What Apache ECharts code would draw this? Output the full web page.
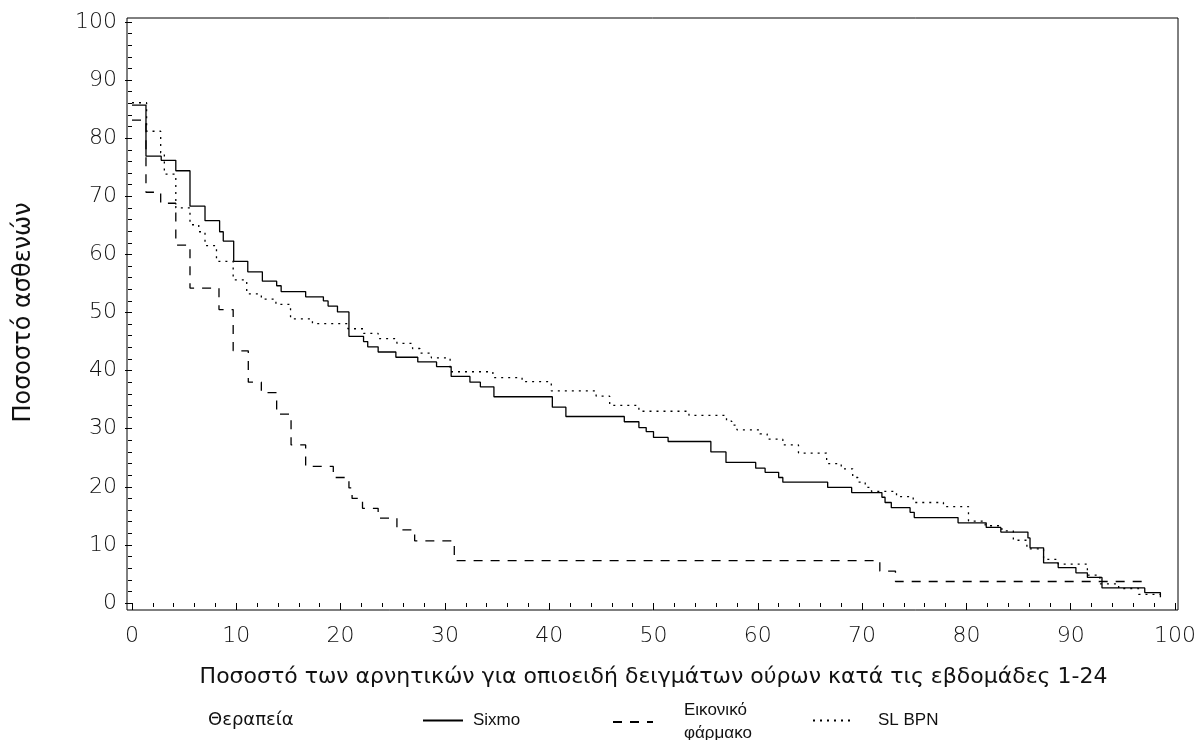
<!DOCTYPE html>
<html>
<head>
<meta charset="utf-8">
<script src="https://cdn.jsdelivr.net/npm/echarts@6/dist/echarts.min.js"></script>
<style>
  html, body { margin: 0; padding: 0; background: #fff; }
  #chart { width: 1200px; height: 740px; }
</style>
</head>
<body>
<div id="chart"></div>
<script>
// step points: [x where the value changes, new value]
const sixmo = [
  [0, 85.7], [1.34, 76.9], [2.8, 76.2], [4.2, 74.4], [5.56, 68.3], [7.0, 65.8], [8.4, 63.9],
  [8.75, 62.3], [9.75, 58.8], [11.1, 57.0], [12.5, 55.4], [13.87, 54.6], [14.3, 53.6],
  [16.65, 52.7], [18.35, 52.0], [18.8, 51.1], [19.7, 50.1], [20.8, 45.9], [22.2, 45.0],
  [22.6, 44.1], [23.6, 43.2], [25.3, 42.3], [27.4, 41.5], [29.2, 40.7], [30.6, 39.0],
  [32.4, 38.0], [33.4, 37.2], [34.7, 35.5], [40.3, 33.7], [41.6, 32.1], [47.2, 31.2],
  [48.6, 30.2], [49.3, 29.5], [50.0, 28.5], [51.4, 27.8], [55.5, 26.0], [56.95, 24.2],
  [59.8, 23.2], [60.7, 22.5], [62.0, 21.6], [62.4, 20.8], [66.7, 19.9], [69.0, 19.0],
  [71.9, 18.2], [72.2, 17.3], [72.8, 16.4], [74.6, 15.6], [75.0, 14.7], [79.2, 13.8],
  [81.9, 13.0], [83.3, 12.2], [85.9, 11.2], [86.1, 9.5], [87.4, 6.9], [88.8, 6.1],
  [90.5, 5.2], [91.6, 4.4], [93.0, 2.6], [97.1, 1.8], [98.6, 1.0]
]
const placebo = [
  [0, 83.1], [1.34, 70.7], [2.75, 68.8], [4.2, 61.6], [5.56, 54.2], [8.34, 50.5], [9.7, 43.4],
  [11.15, 38.0], [12.4, 36.2], [13.87, 32.5], [15.25, 27.2], [16.65, 23.5], [19.3, 21.6],
  [20.8, 19.8], [21.1, 18.0], [22.1, 16.3], [23.6, 14.6], [25.4, 12.6], [27.1, 10.7],
  [30.9, 7.3], [71.7, 5.5], [73.2, 3.7], [97.1, 3.7]
]
const slbpn = [
  [0, 86.1], [1.4, 81.2], [2.75, 77.5], [3.1, 73.8], [4.2, 68.0], [5.56, 65.1], [6.4, 63.9],
  [7.0, 61.5], [8.1, 58.8], [9.7, 55.6], [11.0, 53.2], [12.4, 52.3], [13.8, 51.4],
  [15.2, 48.9], [17.3, 48.1], [20.7, 47.2], [22.2, 46.4], [23.6, 45.5], [25.4, 44.7],
  [26.9, 43.8], [27.6, 43.0], [28.7, 42.2], [30.5, 39.8], [34.6, 38.8], [37.4, 38.1],
  [40.2, 36.5], [44.5, 35.6], [45.8, 34.0], [48.6, 33.0], [53.4, 32.3], [57.0, 31.3],
  [57.5, 30.6], [58.0, 29.8], [60.2, 29.1], [60.9, 28.2], [62.4, 27.2], [63.9, 25.8],
  [66.6, 24.0], [68.0, 23.1], [69.1, 21.6], [69.6, 20.8], [70.3, 19.9], [70.9, 19.2],
  [73.3, 18.3], [74.9, 17.3], [77.8, 16.6], [80.2, 14.1], [81.8, 13.3], [83.4, 12.4],
  [84.5, 10.8], [85.8, 9.3], [87.4, 7.5], [88.8, 6.7], [91.6, 4.8], [92.8, 3.3],
  [94.6, 2.5], [96.5, 1.5], [98.6, 1.5]
]
const seriesNames = ['Sixmo', 'Εικονικό φάρμακο', 'SL BPN']
const xTitle = 'Ποσοστό των αρνητικών για οπιοειδή δειγμάτων ούρων κατά τις εβδομάδες 1-24'
const yTitle = 'Ποσοστό ασθενών'
const legendTitle = 'Θεραπεία'

const chart = echarts.init(document.getElementById('chart'))
const tickFont = { color: '#111', fontSize: 22, fontFamily: 'DejaVu Sans', fontWeight: 200 }
const axisBlack = { lineStyle: { color: '#000', width: 1 } }

const stepSeries = (name, data, type) => ({
  name,
  type: 'line',
  step: 'end',
  data,
  symbol: 'none',
  animation: false,
  lineStyle: { color: '#000', width: 1.3, type },
  itemStyle: { color: '#000' }
})

const legendAt = (name, left, top, pad, wrap) => ({
  data: [name],
  left,
  top,
  itemWidth: 40,
  itemHeight: 12,
  selectedMode: false,
  itemStyle: { opacity: 0 },
  formatter: n => (wrap ? n.replace(' ', '\n') : n),
  textStyle: { fontFamily: 'Liberation Sans', fontSize: 17, color: '#111', lineHeight: 23, padding: [0, 0, 0, pad] }
})

chart.setOption({
  animation: false,
  title: {
    text: legendTitle,
    left: 203,
    top: 706,
    textStyle: { fontFamily: 'DejaVu Sans', fontSize: 18, fontWeight: 'normal', color: '#111' }
  },
  legend: [
    legendAt(seriesNames[0], 417, 704, 5, false),
    legendAt(seriesNames[1], 607, 694, 26, true),
    legendAt(seriesNames[2], 807, 704, 20, false)
  ],
  grid: [
    { left: 132, right: 25, top: 22, bottom: 137 },
    { left: 127, right: 22, top: 18, bottom: 130, show: true, borderColor: '#000', borderWidth: 1 }
  ],
  xAxis: [
    {
      type: 'value', min: 0, max: 100, interval: 10, gridIndex: 0, offset: 7,
      axisLine: { show: false },
      axisTick: { length: 7, ...axisBlack },
      minorTick: { show: true, splitNumber: 5, length: 4, ...axisBlack },
      splitLine: { show: false },
      axisLabel: { ...tickFont, margin: 15 },
      name: xTitle,
      nameLocation: 'middle',
      nameGap: 56,
      nameTextStyle: { fontFamily: 'DejaVu Sans', fontSize: 22, color: '#111' }
    },
    { type: 'value', gridIndex: 1, show: false }
  ],
  yAxis: [
    {
      type: 'value', min: 0, max: 100, interval: 10, gridIndex: 0, offset: 5,
      axisLine: { show: false },
      axisTick: { length: 7, ...axisBlack },
      minorTick: { show: true, splitNumber: 5, length: 4, ...axisBlack },
      splitLine: { show: false },
      axisLabel: { ...tickFont, margin: 10 },
      name: yTitle,
      nameLocation: 'middle',
      nameRotate: 90,
      nameGap: 91,
      nameTextStyle: { fontFamily: 'DejaVu Sans', fontSize: 24, color: '#111' }
    },
    { type: 'value', gridIndex: 1, show: false }
  ],
  series: [
    stepSeries(seriesNames[0], sixmo, 'solid'),
    stepSeries(seriesNames[1], placebo, [9, 8]),
    stepSeries(seriesNames[2], slbpn, [2, 5])
  ]
})
</script>
</body>
</html>
